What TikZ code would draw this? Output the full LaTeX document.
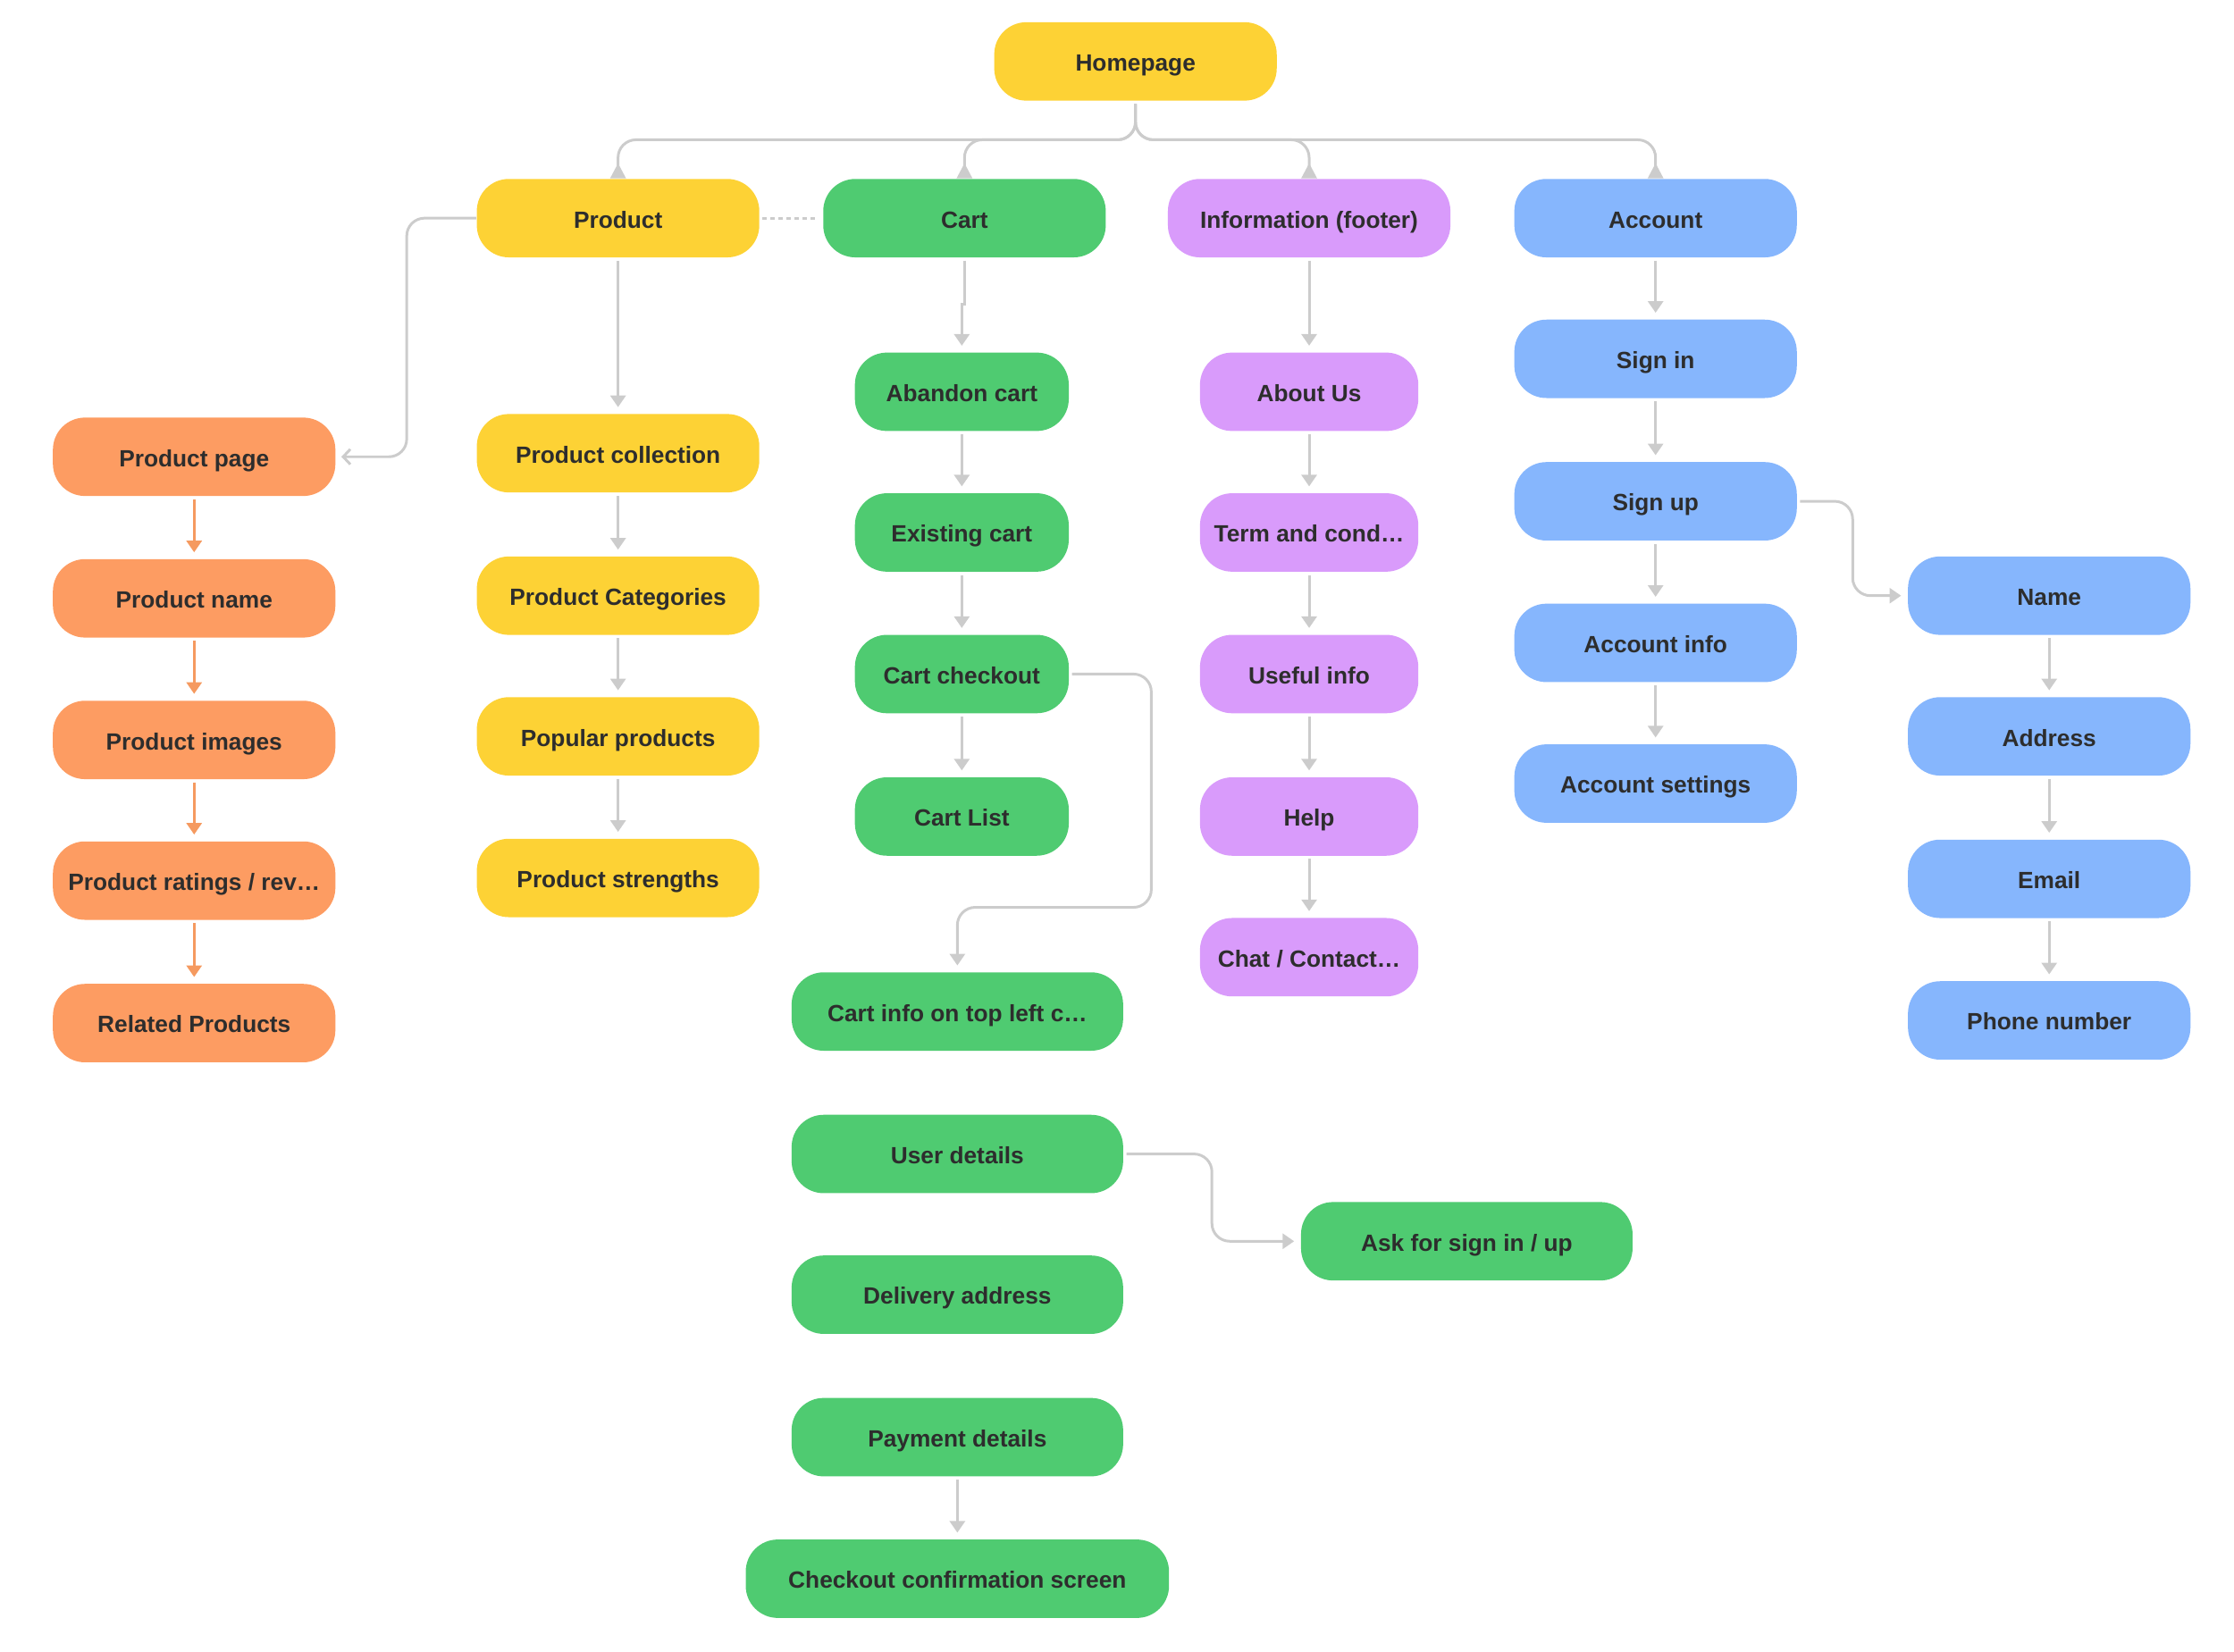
\documentclass[tikz,border=0pt]{standalone}
\usepackage{fontspec}
\setmainfont{Liberation Sans}
\usetikzlibrary{arrows.meta}

\definecolor{yellowbox}{HTML}{FDD235}
\definecolor{orangebox}{HTML}{FD9C62}
\definecolor{greenbox}{HTML}{4FCB71}
\definecolor{purplebox}{HTML}{D99BFB}
\definecolor{bluebox}{HTML}{86B6FD}
\definecolor{linegray}{HTML}{CCCCCC}
\definecolor{linecoral}{HTML}{F59A60}
\definecolor{textdark}{HTML}{2D2D2D}

\begin{document}
\begin{tikzpicture} [x = 0.01cm, y = -0.01cm,
  box/.style = {rounded corners = 0.36cm, minimum width = 3.17cm, minimum height = 0.88cm, inner sep = 0pt,
                text height = 6.2pt, text depth = 0pt,
                text = textdark, font = \bfseries\fontsize{7.5}{9}\selectfont},
  narrowbox/.style = {box, minimum width = 2.40cm},
  widebox/.style = {box, minimum width = 3.72cm},
  link/.style = {draw = linegray, line width = 0.03cm, rounded corners = 0.2cm},
  arr/.style = {link, -{Triangle[width = 0.17cm, length = 0.13cm]}, shorten <= 0.03cm, shorten >= 0.07cm},
  orangearr/.style = {arr, draw = linecoral, fill = linecoral},
  tree/.style = {link, -{Triangle[reversed, width = 0.17cm, length = 0.17cm]}, shorten <= 0.03cm}]
\useasboundingbox (0,0) rectangle (2508.5,1854.3);

% top level
\node[box, fill = yellowbox] (home) at (1275,69) {Homepage};
\node[box, fill = yellowbox] (product) at (694,245) {Product};
\node[box, fill = greenbox] (cart) at (1083,245) {Cart};
\node[box, fill = purplebox] (info) at (1470,245) {Information (footer)};
\node[box, fill = bluebox] (account) at (1859,245) {Account};
\coordinate (hub) at (1275,157);

% product page
\node[box, fill = orangebox] (ppage) at (218,513) {Product page};
\node[box, fill = orangebox] (pname) at (218,672) {Product name};
\node[box, fill = orangebox] (pimages) at (218,831) {Product images};
\node[box, fill = orangebox] (pratings) at (218,989) {Product ratings / rev…};
\node[box, fill = orangebox] (prelated) at (218,1149) {Related Products};

% product
\node[box, fill = yellowbox] (pcoll) at (694,509) {Product collection};
\node[box, fill = yellowbox] (pcat) at (694,669) {Product Categories};
\node[box, fill = yellowbox] (ppopular) at (694,827) {Popular products};
\node[box, fill = yellowbox] (pstrength) at (694,986) {Product strengths};

% cart
\node[narrowbox, fill = greenbox] (abandon) at (1080,440) {Abandon cart};
\node[narrowbox, fill = greenbox] (existing) at (1080,598) {Existing cart};
\node[narrowbox, fill = greenbox] (checkout) at (1080,757) {Cart checkout};
\node[narrowbox, fill = greenbox] (cartlist) at (1080,917) {Cart List};
\node[widebox, fill = greenbox] (cartinfo) at (1075,1136) {Cart info on top left c…};
\node[widebox, fill = greenbox] (userdet) at (1075,1296) {User details};
\node[widebox, fill = greenbox] (delivery) at (1075,1454) {Delivery address};
\node[widebox, fill = greenbox] (payment) at (1075,1614) {Payment details};
\node[box, minimum width = 4.75cm, fill = greenbox] (confirm) at (1075,1773) {Checkout confirmation screen};
\node[widebox, fill = greenbox] (ask) at (1647,1394) {Ask for sign in / up};

% information
\node[narrowbox, minimum width = 2.45cm, fill = purplebox] (about) at (1470,440) {About Us};
\node[narrowbox, minimum width = 2.45cm, fill = purplebox] (terms) at (1470,598) {Term and cond…};
\node[narrowbox, minimum width = 2.45cm, fill = purplebox] (useful) at (1470,757) {Useful info};
\node[narrowbox, minimum width = 2.45cm, fill = purplebox] (help) at (1470,917) {Help};
\node[narrowbox, minimum width = 2.45cm, fill = purplebox] (chat) at (1470,1075) {Chat / Contact…};

% account
\node[box, fill = bluebox] (signin) at (1859,403) {Sign in};
\node[box, fill = bluebox] (signup) at (1859,563) {Sign up};
\node[box, fill = bluebox] (accinfo) at (1859,722) {Account info};
\node[box, fill = bluebox] (accset) at (1859,880) {Account settings};
\node[box, fill = bluebox] (name) at (2301,669) {Name};
\node[box, fill = bluebox] (address) at (2301,827) {Address};
\node[box, fill = bluebox] (email) at (2301,987) {Email};
\node[box, fill = bluebox] (phone) at (2301,1146) {Phone number};

\draw[tree] (home.south) -- (hub) -| (product.north);
\draw[tree] (home.south) -- (hub) -| (cart.north);
\draw[tree] (home.south) -- (hub) -| (info.north);
\draw[tree] (home.south) -- (hub) -| (account.north);

\draw[link, -{Straight Barb[width = 0.17cm, length = 0.08cm]}, shorten >= 0.06cm] (product.west) -- ++(-78,0) |- (ppage.east);
\draw[link, dash pattern = on 0.05cm off 0.04cm, shorten <= 0.03cm, shorten >= 0.06cm] (product.east) -- (cart.west);
\draw[orangearr] (ppage) -- (pname);
\draw[orangearr] (pname) -- (pimages);
\draw[orangearr] (pimages) -- (pratings);
\draw[orangearr] (pratings) -- (prelated);

\draw[arr] (product) -- (pcoll);
\draw[arr] (pcoll) -- (pcat);
\draw[arr] (pcat) -- (ppopular);
\draw[arr] (ppopular) -- (pstrength);

\draw[arr, rounded corners = 0] (cart.south) -- ++(0,52) -| (abandon.north);
\draw[arr] (abandon) -- (existing);
\draw[arr] (existing) -- (checkout);
\draw[arr] (checkout) -- (cartlist);
\draw[arr] (checkout.east) -- ++(92,0) -- ++(0,262) -| (cartinfo.north);
\draw[arr] (userdet.east) -- ++(99,0) |- (ask.west);
\draw[arr] (payment) -- (confirm);

\draw[arr] (info) -- (about);
\draw[arr] (about) -- (terms);
\draw[arr] (terms) -- (useful);
\draw[arr] (useful) -- (help);
\draw[arr] (help) -- (chat);

\draw[arr] (account) -- (signin);
\draw[arr] (signin) -- (signup);
\draw[arr] (signup) -- (accinfo);
\draw[arr] (accinfo) -- (accset);
\draw[arr] (signup.east) -- ++(62,0) |- (name.west);
\draw[arr] (name) -- (address);
\draw[arr] (address) -- (email);
\draw[arr] (email) -- (phone);
\end{tikzpicture}
\end{document}
